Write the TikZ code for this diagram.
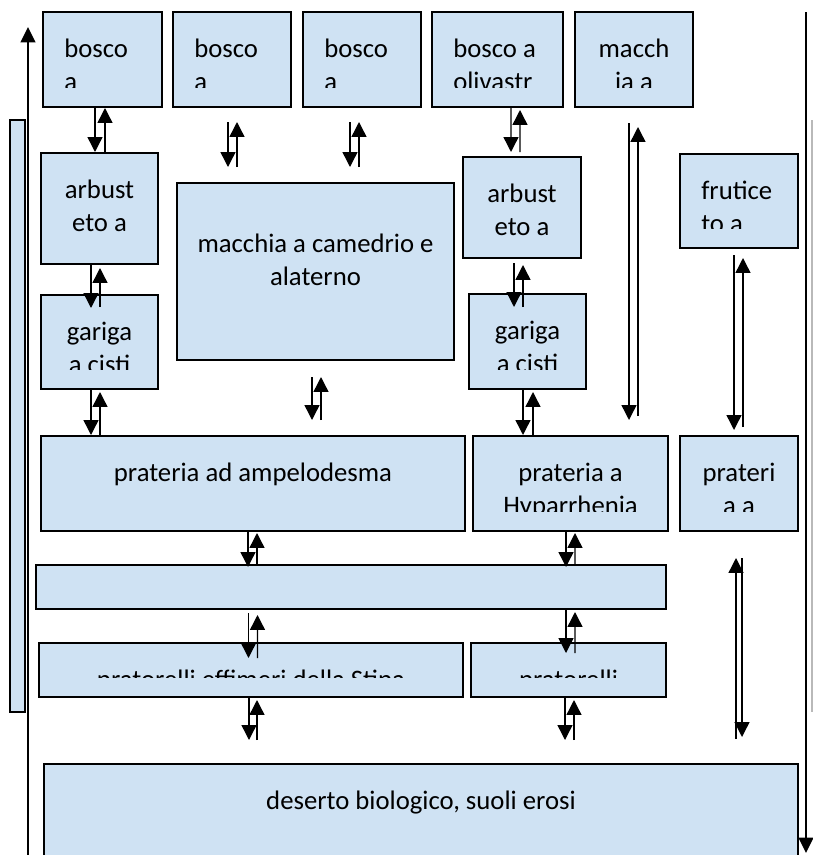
\documentclass[tikz,border=0pt]{standalone}
\usepackage{fontspec}
\setmainfont{Carlito}
\usepackage{tikz}
\usetikzlibrary{arrows.meta, calc}

\definecolor{fondo}{RGB}{207,226,243}

% text of a box, cut off above the bottom margin of the box
\newcommand{\boxlabel}[3][23]{%
  \begin{scope}
    \clip (#2.north west) rectangle ($(#2.south east)+(0,-20)$);
    \node[lbl, anchor=north] (#2_txt) at ($(#2.north)+(0,#1)$) {\strut #3};
  \end{scope}}
\newcommand{\boxlabelleft}[2]{%
  \begin{scope}
    \clip (#1.north west) rectangle ($(#1.south east)+(0,-20)$);
    \node[lbl, anchor=north west, align=left] (#1_txt) at ($(#1.north west)+(21,23)$) {\strut #2};
  \end{scope}}

\begin{document}
\begin{tikzpicture}[
  x=0.025cm, y=-0.025cm,
  stadio/.style={rectangle, draw=black, fill=fondo, line width=1.2pt,
    anchor=north west, inner sep=0pt, outer sep=0pt},
  sz/.style 2 args={minimum width=#1*0.025cm, minimum height=#2*0.025cm},
  lbl/.style={font=\fontsize{19}{23}\selectfont, inner sep=0pt, align=center},
  arr/.style={-{Triangle[width=10.5pt, length=10.5pt]}, line width=1pt},
  bordo/.style={-{Triangle[width=10.5pt, length=11pt]}, line width=1.4pt},
]
\useasboundingbox (0,0) rectangle (813,855);
% ====== BOXES ======
\node[stadio, sz={15}{592}] (barra) at (10,120) {};
\node[stadio, sz={119}{95}] (b1) at (43,12) {};
\node[stadio, sz={118}{95}] (b2) at (173,12) {};
\node[stadio, sz={118}{95}] (b3) at (303,12) {};
\node[stadio, sz={131}{95}] (b4) at (432,12) {};
\node[stadio, sz={118}{95}] (b5) at (575,12) {};
\node[stadio, sz={117}{111}] (a1) at (41,153) {};
\node[stadio, sz={277}{177}] (mc) at (177,183) {};
\node[stadio, sz={118}{101}] (a2) at (463,157) {};
\node[stadio, sz={118}{94}] (f1) at (680,154) {};
\node[stadio, sz={117}{94}] (g1) at (41,295) {};
\node[stadio, sz={117}{95}] (g2) at (469,294) {};
\node[stadio, sz={424}{95}] (p1) at (41,436) {};
\node[stadio, sz={195}{95}] (p2) at (473,436) {};
\node[stadio, sz={118}{95}] (p3) at (680,436) {};
\node[stadio, sz={630}{44}] (e1) at (36,565) {};
\node[stadio, sz={424}{54}] (s1) at (39,643) {};
\node[stadio, sz={195}{54}] (s2) at (471,643) {};
\node[stadio, sz={754}{120}] (d1) at (44,764) {};
% ====== LABELS ======
\boxlabelleft{b1}{bosco\\a}
\boxlabelleft{b2}{bosco\\a}
\boxlabelleft{b3}{bosco\\a}
\boxlabelleft{b4}{bosco a\\olivastr}
\boxlabel{b5}{macch\\ia a}
\boxlabel{a1}{arbust\\eto a}
\boxlabel[47]{mc}{macchia a camedrio e\\alaterno}
\boxlabel{a2}{arbust\\eto a}
\boxlabelleft{f1}{frutice\\to a}
\boxlabel{g1}{gariga\\a cisti}
\boxlabel{g2}{gariga\\a cisti}
\boxlabel{p1}{prateria ad ampelodesma}
\boxlabel{p2}{prateria a\\Hyparrhenia}
\boxlabel{p3}{prateri\\a a}
\boxlabel{s1}{pratorelli effimeri della Stipa}
\boxlabel{s2}{pratorelli}
\boxlabel{d1}{deserto biologico, suoli erosi}
% ====== ARROW PAIRS ======
\draw[arr] ($(b1.south)+(-7.5,0)$) -- ($(a1.north)+(-4.5,-1)$);
\draw[arr] ($(a1.north)+(5.5,-1)$) -- ($(b1.south)+(2.5,1)$);
\draw[arr] ($(b2.south)+(-4,15)$) -- ($(b2.south)+(-4,60)$);
\draw[arr] ($(b2.south)+(5,60)$) -- ($(b2.south)+(5,15)$);
\draw[arr] ($(b3.south)+(-12,15)$) -- ($(b3.south)+(-12,60)$);
\draw[arr] ($(b3.south)+(-3,60)$) -- ($(b3.south)+(-3,15)$);
\draw[arr] ($(b4.south)+(13.5,0)$) -- ($(a2.north)+(-11,-5)$);
\draw[arr] ($(a2.north)+(-2,-5)$) -- ($(b4.south)+(22.5,3)$);
\draw[arr] ($(b5.south)+(-5,16)$) -- ($(b5.south)+(-5,313)$);
\draw[arr] ($(b5.south)+(4,309)$) -- ($(b5.south)+(4,20)$);
%
\draw[arr] ($(a1.south)+(-8.5,0)$) -- ($(g1.north)+(-8.5,13)$);
\draw[arr] ($(g1.north)+(0.5,12)$) -- ($(a1.south)+(0.5,4)$);
\draw[arr] ($(g1.south)+(-8.5,0)$) -- ($(g1.south)+(-8.5,46)$);
\draw[arr] ($(g1.south)+(0.5,46)$) -- ($(g1.south)+(0.5,3)$);
\draw[arr] ($(mc.south)+(-3.5,17)$) -- ($(mc.south)+(-3.5,60)$);
\draw[arr] ($(mc.south)+(5.5,60)$) -- ($(mc.south)+(5.5,17)$);
\draw[arr] ($(a2.south)+(-8,5)$) -- ($(g2.north)+(-13.5,13)$);
\draw[arr] ($(g2.north)+(-4.5,13)$) -- ($(a2.south)+(1,7)$);
\draw[arr] ($(g2.south)+(-4.5,0)$) -- ($(g2.south)+(-4.5,46)$);
\draw[arr] ($(g2.south)+(5.5,46)$) -- ($(g2.south)+(5.5,3)$);
\draw[arr] ($(f1.south)+(-5,7)$) -- ($(f1.south)+(-5,182)$);
\draw[arr] ($(f1.south)+(4,179)$) -- ($(f1.south)+(4,10)$);
%
\draw[arr] ($(p1.south)+(-5,0)$) -- ($(e1.north)+(-103,2)$);
\draw[arr] ($(e1.north)+(-94,0)$) -- ($(p1.south)+(4,2)$);
\draw[arr] ($(p2.south)+(-4.5,0)$) -- ($(e1.north)+(215,2)$);
\draw[arr] ($(e1.north)+(224,0)$) -- ($(p2.south)+(4.5,2)$);
\draw[arr] ($(p3.south)+(-3,208)$) -- ($(p3.south)+(-3,27)$);
\draw[arr] ($(p3.south)+(3,27)$) -- ($(p3.south)+(3,206)$);
%
\draw[arr] ($(e1.south)+(-102.5,4)$) -- ($(s1.north)+(-2.5,15)$);
\draw[arr] ($(s1.north)+(6.5,15)$) -- ($(e1.south)+(-93.5,6)$);
\draw[arr] ($(e1.south)+(215,0)$) -- ($(s2.north)+(-2.5,10)$);
\draw[arr] ($(s2.north)+(6.5,10)$) -- ($(e1.south)+(224,3)$);
\draw[arr] ($(s1.south)+(-2,0)$) -- ($(s1.south)+(-2,43)$);
\draw[arr] ($(s1.south)+(6,43)$) -- ($(s1.south)+(6,3)$);
\draw[arr] ($(s2.south)+(-3.5,0)$) -- ($(s2.south)+(-3.5,43)$);
\draw[arr] ($(s2.south)+(5.5,43)$) -- ($(s2.south)+(5.5,3)$);
% ====== OUTER ARROWS ======
\coordinate (sx_basso) at (28,860);
\coordinate (sx_alto) at (28,27);
\coordinate (dx_alto) at (806,12);
\coordinate (dx_basso) at (806,853);
\draw[bordo] (sx_basso) -- (sx_alto);
\draw[bordo] (dx_alto) -- (dx_basso);
\draw[gray!55, line width=0.8pt] (812,120) -- (812,712);
\end{tikzpicture}
\end{document}
